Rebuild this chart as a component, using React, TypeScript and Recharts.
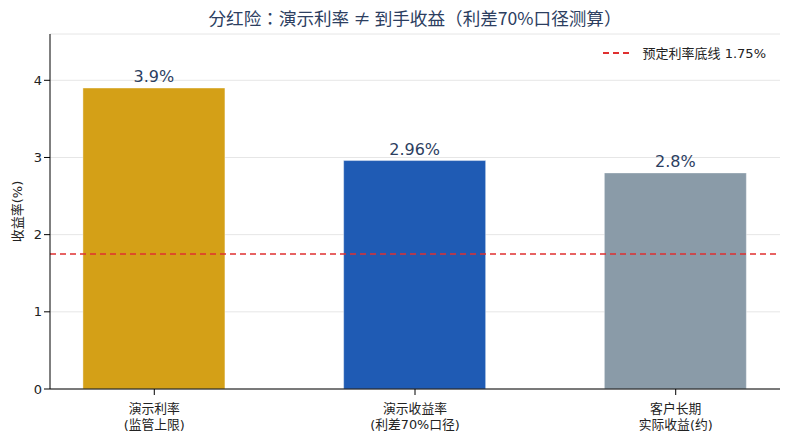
import { BarChart, Bar, XAxis, YAxis, CartesianGrid, ReferenceLine, LabelList, Cell } from 'recharts'

const CATEGORIES = ['演示利率\n(监管上限)', '演示收益率\n(利差70%口径)', '客户长期\n实际收益(约)']
const RATES = [3.9, 2.96, 2.8]
const BAR_COLORS = ['#D4A017', '#1F5BB4', '#8A9BA8']
const Y_TICKS = [0, 1, 2, 3, 4]
const FLOOR_RATE = 1.75

const FONT = '"DejaVu Sans", "Noto Sans CJK SC", sans-serif'
const CJK = '"Noto Sans CJK JP", "DejaVu Sans", sans-serif'
const NAVY = '#2c3e5f'

const data = CATEGORIES.map((name, i) => ({ x: i, name, rate: RATES[i] }))

function CategoryTick({ x, y, payload }: any) {
  const lines = CATEGORIES[payload.value].split('\n')
  return (
    <text x={x} y={y + 16} textAnchor="middle" fontSize={12.8} fill="#222" fontFamily={FONT}>
      {lines.map((l, i) => (
        <tspan key={i} x={x} dy={i === 0 ? 0 : 16}>{l}</tspan>
      ))}
    </text>
  )
}

function YLabel({ viewBox }: any) {
  const cy = viewBox.y + viewBox.height / 2
  const cx = 22
  return (
    <text x={cx} y={cy} transform={`rotate(-90 ${cx} ${cy})`} textAnchor="middle" fontSize={13} fill="#222" fontFamily={FONT}>
      收益率(%)
    </text>
  )
}

export default function App() {
  return (
    <div style={{ position: 'relative', width: 790, height: 440, fontFamily: FONT, background: '#fff' }}>
      <style>{'body{margin:0}'}</style>
      <div style={{ position: 'absolute', top: 6, left: 50, width: 730, textAlign: 'center', fontSize: 17.6, color: NAVY, fontFamily: CJK, lineHeight: '24px' }}>
        分红险：演示利率 ≠ 到手收益（利差70%口径测算）
      </div>
      <div style={{ position: 'absolute', top: 43, right: 24, display: 'flex', alignItems: 'center', fontSize: 13, color: '#222' }}>
        <svg width={30} height={4} style={{ marginRight: 10 }}>
          <line x1={0} y1={2} x2={30} y2={2} stroke="#e03030" strokeWidth={2} strokeDasharray="6 4" />
        </svg>
        预定利率底线 1.75%
      </div>
      <BarChart width={790} height={440} data={data} margin={{ top: 34, right: 10, bottom: 13, left: 0 }}>
        <CartesianGrid vertical={false} stroke="#e6e6e6" />
        <XAxis
          type="number"
          dataKey="x"
          domain={[-0.4, 2.4]}
          ticks={[0, 1, 2]}
          tick={<CategoryTick />}
          stroke="#000"
          height={38}
          allowDataOverflow
        />
        <YAxis
          domain={[0, 4.6]}
          ticks={Y_TICKS}
          stroke="#000"
          tick={{ fill: '#222', fontSize: 13, fontFamily: FONT }}
          width={50}
          allowDataOverflow
          label={<YLabel />}
        />
        <ReferenceLine y={FLOOR_RATE} stroke="#e03030" strokeWidth={1.6} strokeDasharray="6 4" />
        <Bar dataKey="rate" barSize={142} isAnimationActive={false} stroke="#ffffff" strokeOpacity={0.4}>
          {data.map((d, i) => (
            <Cell key={d.name} fill={BAR_COLORS[i]} />
          ))}
          <LabelList dataKey="rate" position="top" offset={6} formatter={(v: any) => `${v}%`} fill={NAVY} fontSize={16} fontFamily={FONT} />
        </Bar>
      </BarChart>
    </div>
  )
}
